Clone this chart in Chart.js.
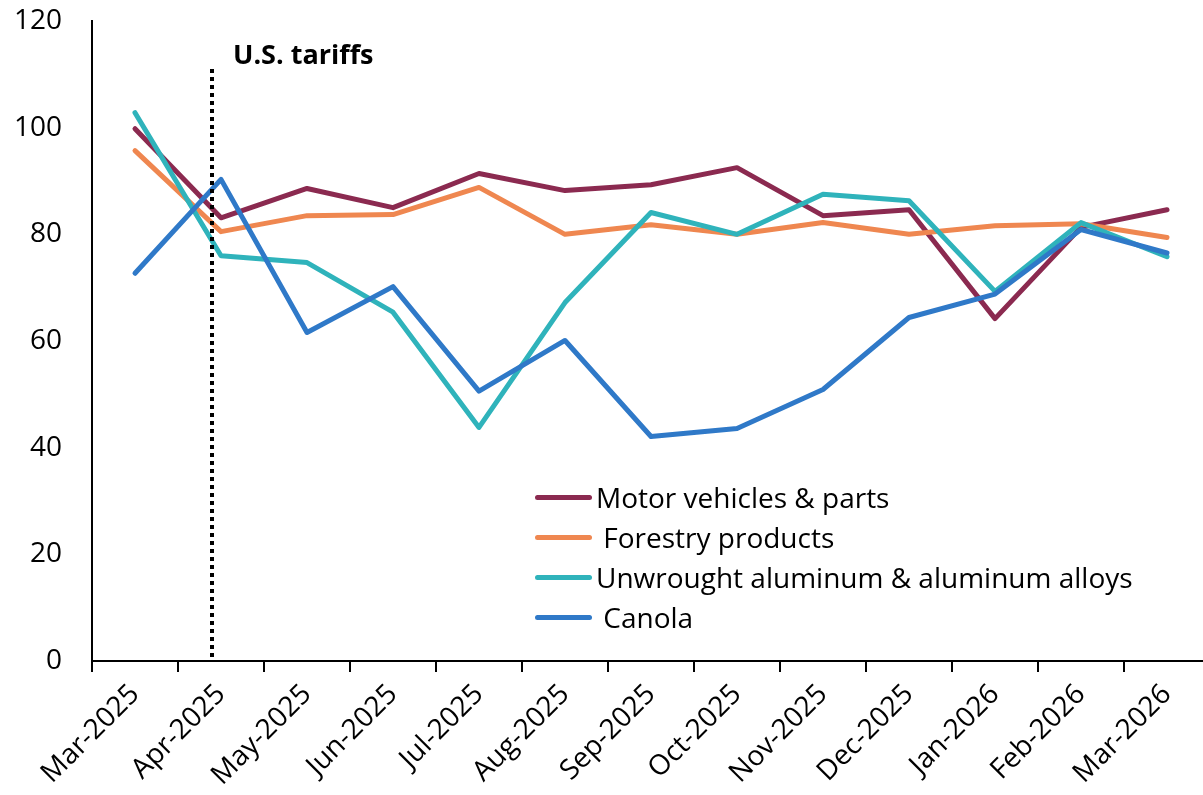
<!DOCTYPE html>
<html>
<head>
<meta charset="utf-8">
<script src="https://cdn.jsdelivr.net/npm/chart.js@4"></script>
<style>
  html,body{margin:0;padding:0;background:#fff;overflow:hidden}
  #wrap{position:relative;width:1210px;height:795px}
  #legend{position:absolute;left:535px;top:477px;font-family:"Open Sans",sans-serif;font-size:28px;color:#000}
  #legend .row{position:relative;height:40px;line-height:40px;white-space:nowrap}
  #legend .sw{position:absolute;left:0;top:18px;width:57px;height:5px;border-radius:3px}
  #legend .txt{position:absolute;left:61px;top:0}
</style>
</head>
<body>
<div id="wrap">
  <canvas id="chart" width="1210" height="795"></canvas>
  <div id="legend"></div>
</div>
<script>
// ─── DATA ───────────────────────────────────────────────────────────
const months = ['Mar-2025','Apr-2025','May-2025','Jun-2025','Jul-2025','Aug-2025','Sep-2025',
  'Oct-2025','Nov-2025','Dec-2025','Jan-2026','Feb-2026','Mar-2026'];
const motorVehicles = [99.8, 83.1, 88.6, 85.0, 91.4, 88.2, 89.3, 92.5, 83.5, 84.6, 64.2, 81.3, 84.6];
const forestry      = [95.7, 80.5, 83.5, 83.7, 88.8, 80.0, 81.8, 80.0, 82.2, 80.0, 81.6, 82.0, 79.4];
const aluminum      = [102.8, 76.0, 74.7, 65.4, 43.8, 67.2, 84.1, 80.0, 87.5, 86.3, 69.3, 82.2, 75.8];
const canola        = [72.7, 90.3, 61.6, 70.2, 50.6, 60.1, 42.1, 43.6, 50.9, 64.4, 68.8, 80.9, 76.5];
const seriesNames = ['Motor vehicles & parts','\u00a0Forestry products','Unwrought aluminum & aluminum alloys','\u00a0Canola'];
const seriesColors = ['#8b2a50','#ef8750','#2fb3bb','#2f79c8'];
const yTicks = [0,20,40,60,80,100,120];
const tariffIndex = 0.9;   // just before Apr-2025
const tariffTop = 111;
const tariffLabel = 'U.S. tariffs';

const FONT = '"Open Sans", sans-serif';

// dotted marker line + label
const tariffPlugin = {
  id:'tariff',
  afterDatasetsDraw(chart){
    const {ctx, scales:{x,y}} = chart;
    const px = Math.round(x.getPixelForValue(tariffIndex));
    const top = y.getPixelForValue(tariffTop), bot = y.getPixelForValue(0);
    ctx.save();
    ctx.strokeStyle = '#000';
    ctx.lineWidth = 4;
    ctx.setLineDash([4,4]);
    ctx.beginPath(); ctx.moveTo(px, top); ctx.lineTo(px, bot); ctx.stroke();
    ctx.setLineDash([]);
    ctx.fillStyle = '#000';
    ctx.font = 'bold 27px ' + FONT;
    ctx.textBaseline = 'alphabetic';
    ctx.fillText(tariffLabel, px + 21, top - 5);
    ctx.restore();
  }
};

const allSeries = [motorVehicles, forestry, aluminum, canola];
new Chart(document.getElementById('chart'), {
  type:'line',
  data:{
    labels: months,
    datasets: allSeries.map((d,i)=>({
      label: seriesNames[i].trim(),
      data: d,
      borderColor: seriesColors[i],
      backgroundColor: seriesColors[i],
      borderWidth: 5,
      pointRadius: 0,
      tension: 0,
      borderJoinStyle: 'round',
      borderCapStyle: 'round',
      order: allSeries.length - i
    }))
  },
  options:{
    responsive:false,
    animation:false,
    layout:{padding:{top:0, right:0, left:0, bottom:0}},
    plugins:{legend:{display:false}, tooltip:{enabled:false}},
    scales:{
      x:{
        offset:true,
        grid:{offset:true, drawOnChartArea:false, drawTicks:true, tickLength:11, color:'#000', lineWidth:2},
        border:{color:'#000', width:2},
        ticks:{font:{family:FONT, size:28}, color:'#000', minRotation:45, maxRotation:45, padding:6, autoSkip:false},
        afterFit(s){ s.height = 134; }
      },
      y:{
        min:0, max:120,
        afterBuildTicks(s){ s.ticks = yTicks.map(v=>({value:v})); },
        grid:{display:false, drawTicks:false},
        border:{color:'#000', width:2},
        ticks:{font:{family:FONT, size:28}, color:'#000', padding:30},
        afterFit(s){ s.width = 92; s.paddingTop = 21; }
      }
    }
  },
  plugins:[tariffPlugin]
});

// legend inside the plot
const legend = document.getElementById('legend');
seriesNames.forEach((n,i)=>{
  const row = document.createElement('div');
  row.className = 'row';
  const sw = document.createElement('div');
  sw.className = 'sw';
  sw.style.background = seriesColors[i];
  const t = document.createElement('div');
  t.className = 'txt';
  t.textContent = n;
  row.appendChild(sw); row.appendChild(t);
  legend.appendChild(row);
});
</script>
</body>
</html>
